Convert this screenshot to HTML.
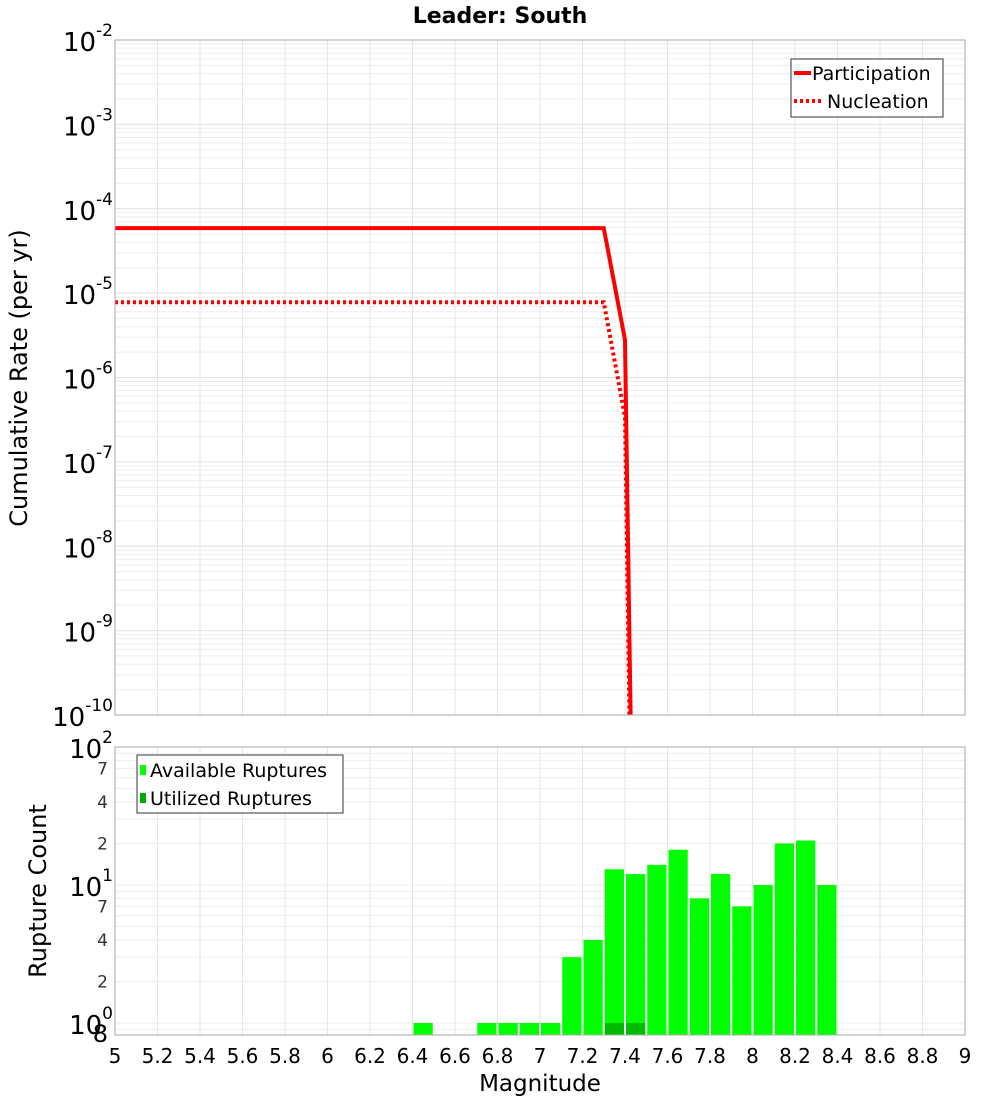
<!DOCTYPE html>
<html><head><meta charset="utf-8"><style>
html,body{margin:0;background:#fff;overflow:hidden;width:1000px;height:1100px;}
svg{display:block;font-family:"DejaVu Sans","Liberation Sans",sans-serif;}
</style></head><body>
<svg id="c" width="1000" height="1100" xmlns="http://www.w3.org/2000/svg"></svg>
<script>
const xTicks=[5,5.2,5.4,5.6,5.8,6,6.2,6.4,6.6,6.8,7,7.2,7.4,7.6,7.8,8,8.2,8.4,8.6,8.8,9];
const xTickLabels=["5","5.2","5.4","5.6","5.8","6","6.2","6.4","6.6","6.8","7","7.2","7.4","7.6","7.8","8","8.2","8.4","8.6","8.8","9"];
const topDecades=[-2,-3,-4,-5,-6,-7,-8,-9,-10];
const partMag=[5,7.3,7.4,7.45];
const partRate=[5.9e-5,5.9e-5,2.8e-6,1e-14];
const nuclMag=[5,7.3,7.4,7.45];
const nuclRate=[7.8e-6,7.8e-6,3.4e-7,1e-15];
const binMag=[6.4,6.7,6.8,6.9,7.0,7.1,7.2,7.3,7.4,7.5,7.6,7.7,7.8,7.9,8.0,8.1,8.2,8.3];
const availCount=[1,1,1,1,1,3,4,13,12,14,18,8,12,7,10,20,21,10];
const utilMag=[7.3,7.4];
const utilCount=[1,1];
const botMinor=[[7,"7"],[4,"4"],[2,"2"],[70,"7"],[40,"4"],[20,"2"]];

const svg=document.getElementById('c');
const NS="http://www.w3.org/2000/svg";
function mk(t,a,p){const e=document.createElementNS(NS,t);for(const k in a)e.setAttribute(k,a[k]);(p||svg).appendChild(e);return e;}
const X0=115,X1=965;
const xs=m=>X0+(m-5)/4*(X1-X0);
const T0=40,T1=715;
const yTop=v=>T0+(-2-Math.log10(v))/8*(T1-T0);
const B0=747,B1=1035;
const yBot=v=>B0+(2-Math.log10(v))*138;

const gT=mk('g',{});

for(let d=-10;d<-2;d++)for(let k=1;k<10;k++){const y=yTop(k*Math.pow(10,d));mk('line',{x1:X0,x2:X1,y1:y,y2:y,stroke:k==1?'#e0e0e0':'#eeeeee','stroke-width':1},gT);}
xTicks.forEach(m=>{const x=xs(m);mk('line',{x1:x,x2:x,y1:T0,y2:T1,stroke:'#e6e6e6'},gT);});
const gB=mk('g',{});

for(let d=-1;d<2;d++)for(let k=1;k<10;k++){const y=yBot(k*Math.pow(10,d));if(y<B0||y>B1)continue;mk('line',{x1:X0,x2:X1,y1:y,y2:y,stroke:'#eeeeee'},gB);}
xTicks.forEach(m=>{const x=xs(m);mk('line',{x1:x,x2:x,y1:B0,y2:B1,stroke:'#e6e6e6'},gB);});

const clip=mk('clipPath',{id:'ct'});mk('rect',{x:X0,y:T0,width:X1-X0,height:T1-T0},clip);
const pp=mk('polyline',{points:partMag.map((m,i)=>xs(m)+','+yTop(partRate[i])).join(' '),fill:'none',stroke:'#ff0000','stroke-width':4,'clip-path':'url(#ct)'});

const np=mk('polyline',{points:nuclMag.map((m,i)=>xs(m)+','+yTop(nuclRate[i])).join(' '),fill:'none',stroke:'#ff0000','stroke-width':4,'stroke-dasharray':'3,3','clip-path':'url(#ct)'});


const bw=(xs(5.1)-xs(5));
binMag.forEach((m,i)=>{const x=xs(m)+1,y=yBot(availCount[i]);const r=mk('rect',{x:x,y:y,width:bw-2,height:B1-y,fill:'#00ff00'});
});
utilMag.forEach((m,i)=>{const x=xs(m)+1,y=yBot(utilCount[i]);const r=mk('rect',{x:x,y:y,width:bw-2,height:B1-y,fill:'#00bb00'});
});

mk('rect',{x:X0,y:T0,width:X1-X0,height:T1-T0,fill:'none',stroke:'#aaaaaa'});
mk('rect',{x:X0,y:B0,width:X1-X0,height:B1-B0,fill:'none',stroke:'#aaaaaa'});

const t=mk('text',{x:500,y:23,'text-anchor':'middle','font-size':22,'font-weight':'bold'});t.textContent='Leader: South';


topDecades.forEach(d=>{const y=yTop(Math.pow(10,d));const g=mk('text',{x:113,y:y+11,'text-anchor':'end','font-size':26});

const a=mk('tspan',{},g);a.textContent='10';const b=mk('tspan',{dy:-15,'font-size':17},g);b.textContent=String(d);});
[[100,'2'],[10,'1'],[1,'0']].forEach(([v,s])=>{const y=yBot(v);const g=mk('text',{x:113,y:y+11,'text-anchor':'end','font-size':26});

const a=mk('tspan',{},g);a.textContent='10';const b=mk('tspan',{dy:-15,'font-size':17},g);b.textContent=s;});
botMinor.forEach(([v,s])=>{const e=mk('text',{x:108,y:yBot(v)+6,'text-anchor':'end','font-size':17,fill:'#333'});e.textContent=s;
});
const e8=mk('text',{x:108,y:1042,'text-anchor':'end','font-size':24});e8.textContent='8';


xTicks.forEach((m,i)=>{const e=mk('text',{x:xs(m),y:1063,'text-anchor':'middle','font-size':20});e.textContent=xTickLabels[i];
});
const xl=mk('text',{x:540,y:1091,'text-anchor':'middle','font-size':23});xl.textContent='Magnitude';

const yl=mk('text',{x:0,y:0,'text-anchor':'middle','font-size':24,transform:'translate(27,378) rotate(-90)'});yl.textContent='Cumulative Rate (per yr)';

const yl2=mk('text',{x:0,y:0,'text-anchor':'middle','font-size':24,transform:'translate(46,891) rotate(-90)'});yl2.textContent='Rupture Count';


const lg=mk('g',{});
mk('rect',{x:791,y:59,width:152,height:58,fill:'#fff',stroke:'#333'},lg);
mk('line',{x1:794,x2:811,y1:73,y2:73,stroke:'#f00','stroke-width':4},lg);
mk('line',{x1:794,x2:822,y1:101,y2:101,stroke:'#f00','stroke-width':4,'stroke-dasharray':'3,3'},lg);
let a=mk('text',{x:812,y:80,'font-size':19},lg);a.textContent='Participation';
a=mk('text',{x:827,y:108,'font-size':19},lg);a.textContent='Nucleation';
const lb=mk('g',{});
mk('rect',{x:137,y:755,width:206,height:58,fill:'#fff',stroke:'#333'},lb);
mk('rect',{x:140,y:765,width:6,height:10,fill:'#00ff00'},lb);
mk('rect',{x:140,y:793,width:6,height:10,fill:'#00aa00'},lb);
a=mk('text',{x:150,y:777,'font-size':19},lb);a.textContent='Available Ruptures';
a=mk('text',{x:150,y:805,'font-size':19},lb);a.textContent='Utilized Ruptures';
</script>
</body></html>
